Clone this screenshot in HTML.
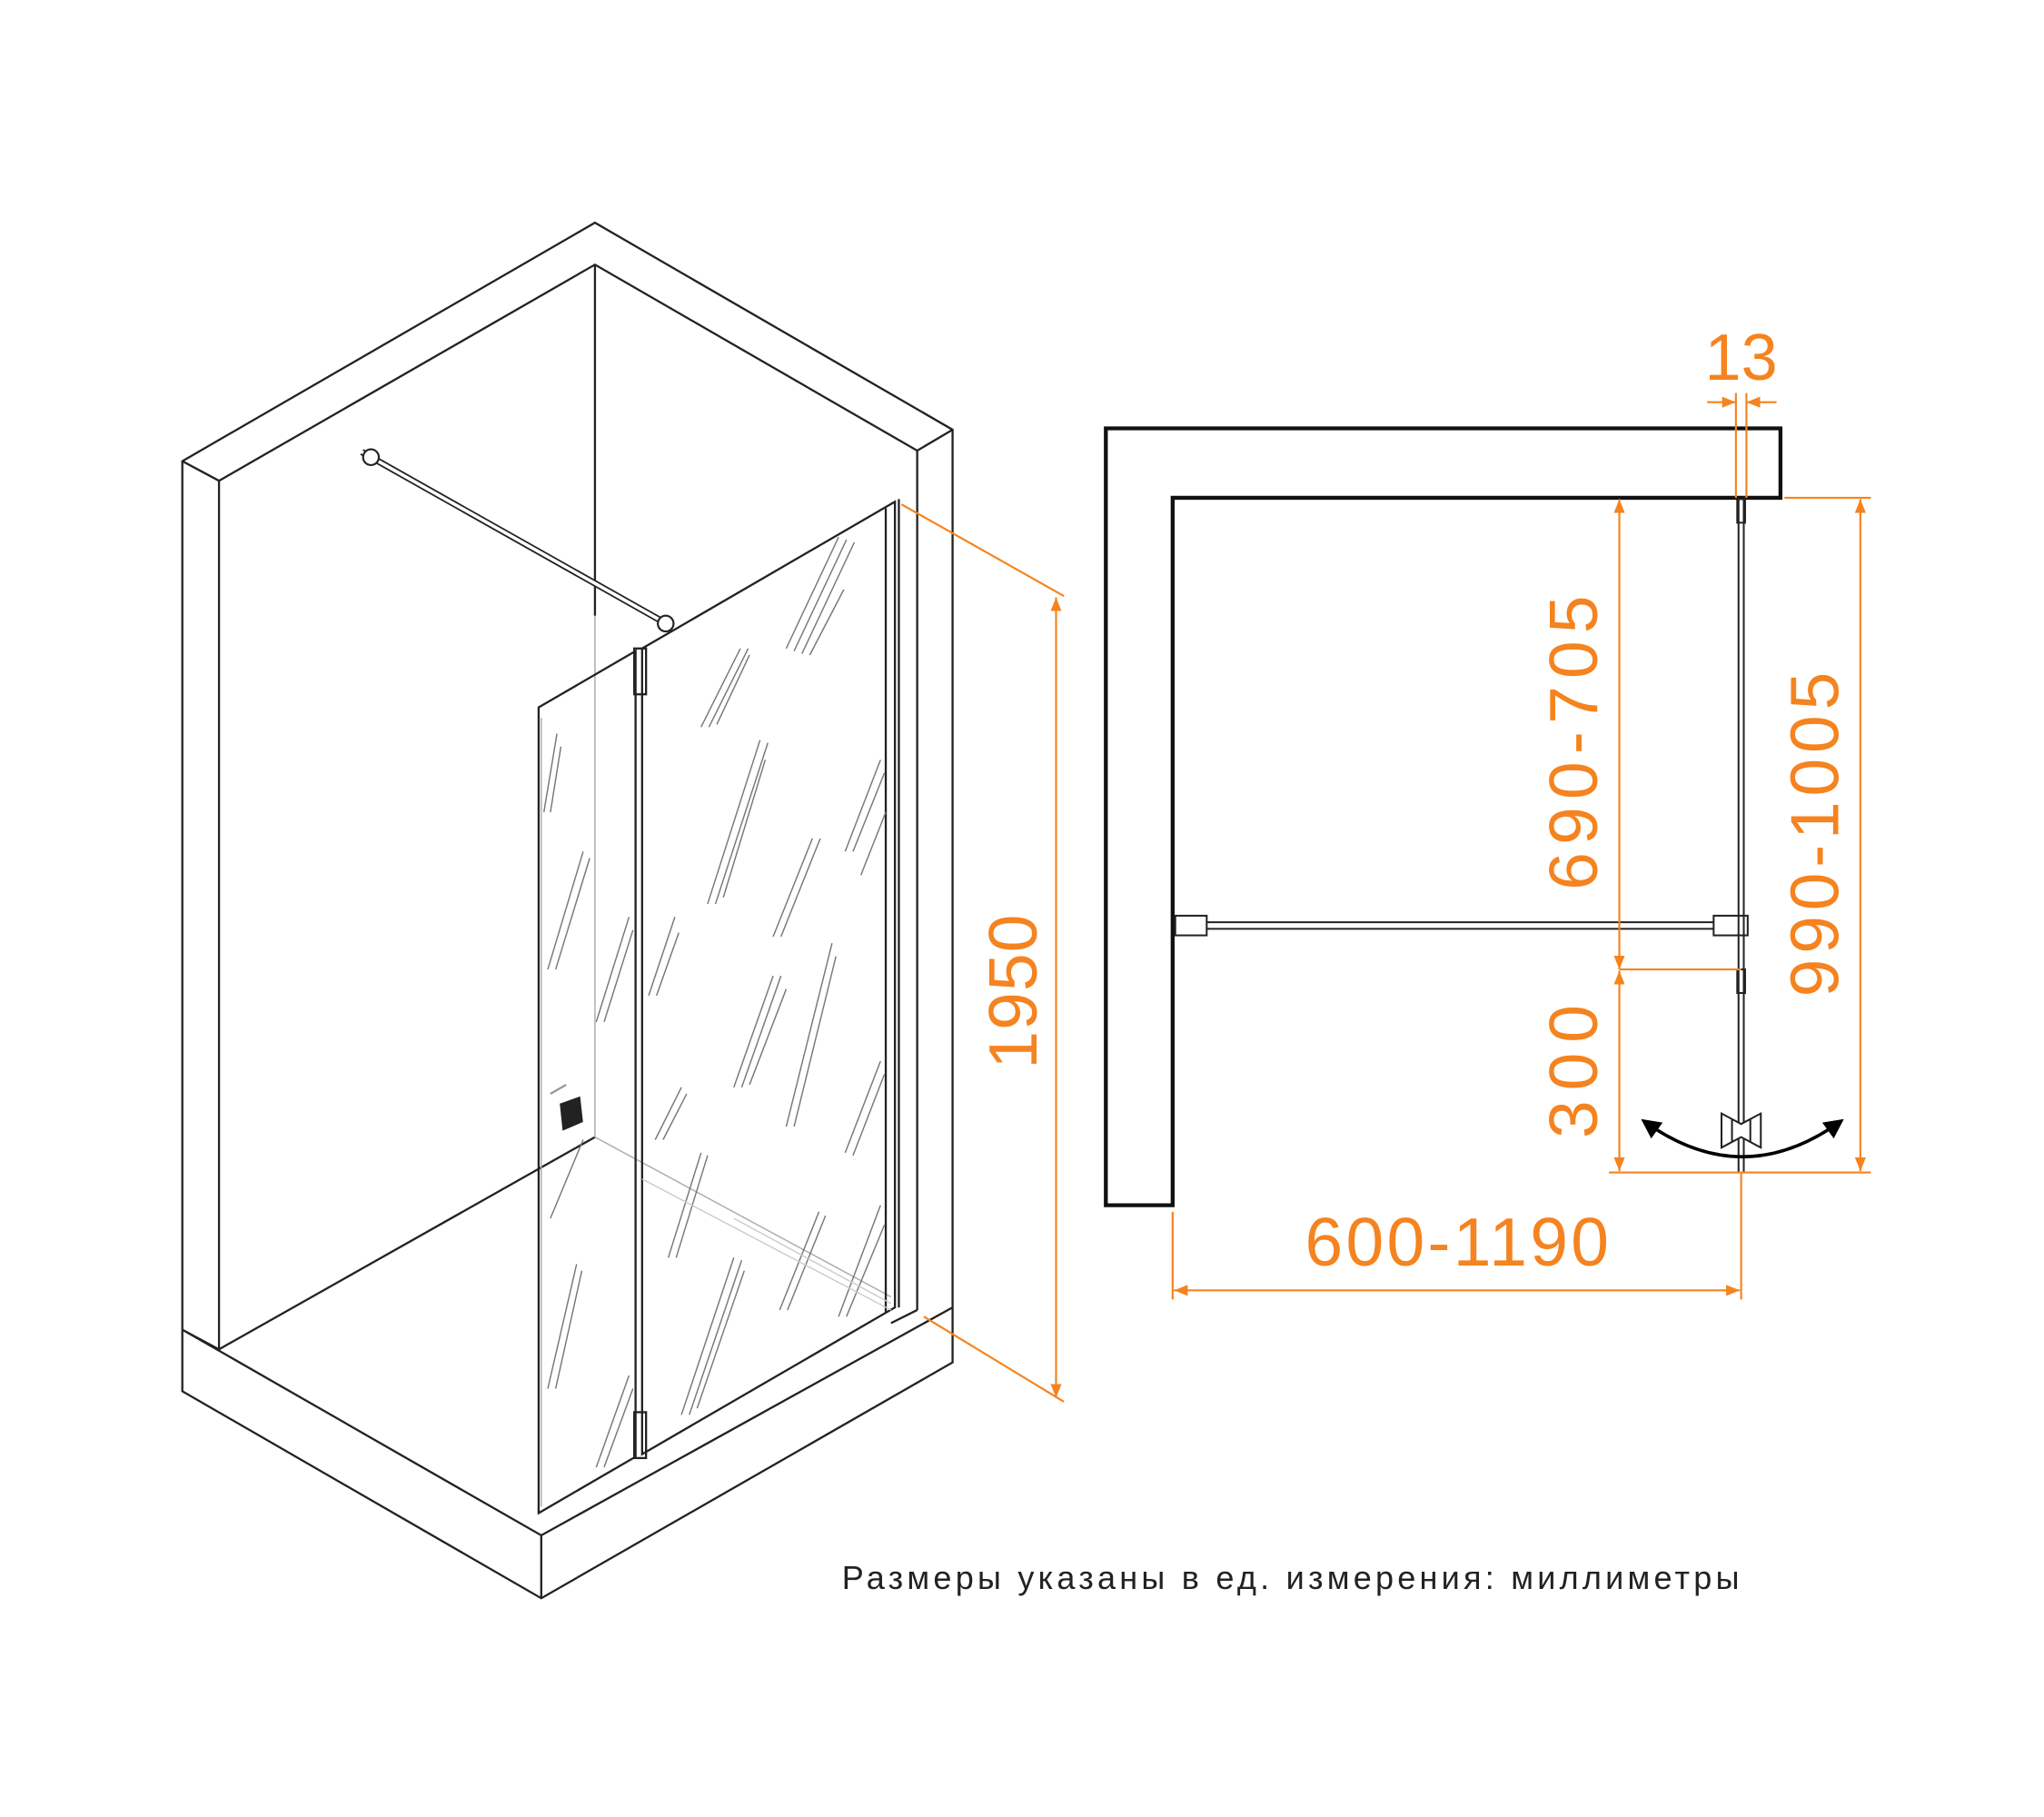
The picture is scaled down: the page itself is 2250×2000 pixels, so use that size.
<!DOCTYPE html>
<html><head><meta charset="utf-8"><style>html,body{margin:0;padding:0;background:#fff}svg{display:block}</style></head>
<body>
<svg width="2250" height="2000" viewBox="0 0 1560 1387" xmlns="http://www.w3.org/2000/svg">
<defs>
<marker id="a" viewBox="0 0 10 10" refX="10" refY="5" markerWidth="7" markerHeight="7" orient="auto-start-reverse"><path d="M0,1 L10,5 L0,9 z" fill="#F5831F"/></marker>
<marker id="b" viewBox="0 0 10 10" refX="8" refY="5" markerWidth="6" markerHeight="6" orient="auto-start-reverse"><path d="M0,0 L10,5 L0,10 z" fill="#000"/></marker>
</defs>
<g fill="none" stroke="#222" stroke-width="1.6">
<path d="M139,352 L454,170 L727,328 L727,1040 L413,1220 L139,1062 Z"/>
<path d="M167,367 L454,202 L700,344"/>
<path d="M139,352 L167,367 M700,344 L727,328"/>
<path d="M167,367 L167,1030 M700,344 L700,1000 M454,202 L454,470"/>
<path d="M139,1015 L167,1030 M139,1015 L413,1172 L727,998 M413,1172 L413,1220"/>
<path d="M167,1030 L454,868"/>
<path d="M700,1000 L680,1010"/>
</g>
<g fill="none" stroke="#aaa" stroke-width="1">
<path d="M454,470 L454,868 L680,990"/>
<path d="M413,548 L413,1150"/>
</g>
<g fill="none" stroke="#222" stroke-width="1.6">
<path d="M411,540 L485,497 L485,1112 L411,1155 Z"/>
<path d="M490,495 L683,383 L683,998 L490,1110 Z"/>
<path d="M676,388 L676,1002 M686,381 L686,998"/>
<path d="M276,345 L512,478" stroke-width="5"/>
<path d="M276,345 L512,478" stroke="#fff" stroke-width="2.5"/>
<rect x="484" y="495" width="9" height="35"/>
<rect x="484" y="1078" width="9" height="35"/>
<path d="M428,843 L442,838 L444,856 L430,862 Z" fill="#222"/>
<path d="M420,835 L432,828" stroke="#999"/>
</g>
<circle cx="283" cy="349" r="6" fill="#fff" stroke="#222" stroke-width="1.5"/>
<circle cx="508" cy="476" r="6" fill="#fff" stroke="#222" stroke-width="1.5"/>
<g stroke="#777" stroke-width="1" fill="none">
<path d="M600,495 L640,410 M606,497 L646,412 M612,499 L652,414 M618,500 L644,450"/>
<path d="M535,555 L565,495 M541,555 L571,495 M547,553 L572,500"/>
<path d="M540,690 L580,565 M546,690 L586,567 M552,685 L584,580"/>
<path d="M590,715 L620,640 M596,715 L626,640"/>
<path d="M645,650 L672,580 M651,650 L675,590 M657,668 L676,620"/>
<path d="M495,760 L515,700 M501,760 L518,712"/>
<path d="M560,830 L590,745 M566,830 L596,745 M572,828 L600,755"/>
<path d="M600,860 L635,720 M606,860 L638,730"/>
<path d="M645,880 L672,810 M651,882 L675,820"/>
<path d="M500,870 L520,830 M506,870 L524,835"/>
<path d="M510,960 L535,880 M516,960 L540,882"/>
<path d="M595,1000 L625,925 M601,1000 L630,928"/>
<path d="M640,1005 L672,920 M646,1005 L675,935"/>
<path d="M520,1080 L560,960 M526,1080 L566,962 M532,1075 L568,970"/>
<path d="M415,620 L425,560 M420,620 L428,570"/>
<path d="M418,740 L445,650 M424,740 L450,655"/>
<path d="M455,780 L480,700 M461,780 L483,710"/>
<path d="M420,930 L445,870"/>
<path d="M418,1060 L440,965 M424,1060 L444,970"/>
<path d="M455,1120 L480,1050 M461,1120 L483,1060"/>
</g>
<g stroke="#ccc" stroke-width="1" fill="none"><path d="M490,900 L680,1000 M560,930 L680,995"/></g>
<g stroke="#F5831F" stroke-width="1.5" fill="none">
<path d="M688,385 L812,455 M705,1005 L812,1070"/>
<path d="M806,456 L806,1067" marker-start="url(#a)" marker-end="url(#a)"/>
</g>
<g fill="#F5831F" font-family="Liberation Sans, sans-serif" font-size="52">
<text transform="translate(791,757) rotate(-90)" text-anchor="middle" textLength="118">1950</text>
<text transform="translate(1219,567) rotate(-90)" text-anchor="middle" textLength="225">690-705</text>
<text transform="translate(1219,818) rotate(-90)" text-anchor="middle" textLength="102">300</text>
<text transform="translate(1403,637) rotate(-90)" text-anchor="middle" textLength="248">990-1005</text>
<text x="1112" y="966" text-anchor="middle" textLength="232">600-1190</text>
<text x="1329" y="290" text-anchor="middle" font-size="50">13</text>
</g>
<path d="M844,327 L1359,327 L1359,380 L895,380 L895,920 L844,920 Z" fill="none" stroke="#111" stroke-width="3"/>
<g stroke="#222" stroke-width="1.4" fill="none">
<path d="M1327,380 L1327,895 M1331,380 L1331,895"/>
<rect x="1326" y="381" width="6" height="18"/>
<rect x="897" y="699" width="24" height="15"/>
<rect x="1308" y="699" width="26" height="15"/>
<path d="M921,704 L1308,704 M921,709 L1308,709"/>
<rect x="1326" y="740" width="6" height="18"/>
<path d="M1314,850 L1329,858 L1344,850 L1344,876 L1329,868 L1314,876 Z" fill="#fff"/>
<path d="M1322,854 L1322,872 M1336,854 L1336,872"/>
<path d="M1255,856 Q1330,910 1405,856" stroke="#000" stroke-width="2.5" marker-start="url(#b)" marker-end="url(#b)"/>
</g>
<g stroke="#F5831F" stroke-width="1.5" fill="none">
<path d="M1325,300 L1325,380 M1333,300 L1333,380"/>
<path d="M1303,307 L1325,307" marker-end="url(#a)"/>
<path d="M1356,307 L1333,307" marker-end="url(#a)"/>
<path d="M1236,381 L1236,740" marker-start="url(#a)" marker-end="url(#a)"/>
<path d="M1236,741 L1236,894" marker-start="url(#a)" marker-end="url(#a)"/>
<path d="M1236,740 L1329,740"/>
<path d="M1420,381 L1420,894" marker-start="url(#a)" marker-end="url(#a)"/>
<path d="M1362,380 L1428,380 M1228,895 L1428,895"/>
<path d="M896,985 L1328,985" marker-start="url(#a)" marker-end="url(#a)"/>
<path d="M895,925 L895,992 M1329,895 L1329,992"/>
</g>
<text x="985" y="1213" text-anchor="middle" font-family="Liberation Sans, sans-serif" font-size="25" fill="#222" textLength="685">Размеры указаны в ед. измерения: миллиметры</text>
</svg>
</body></html>
